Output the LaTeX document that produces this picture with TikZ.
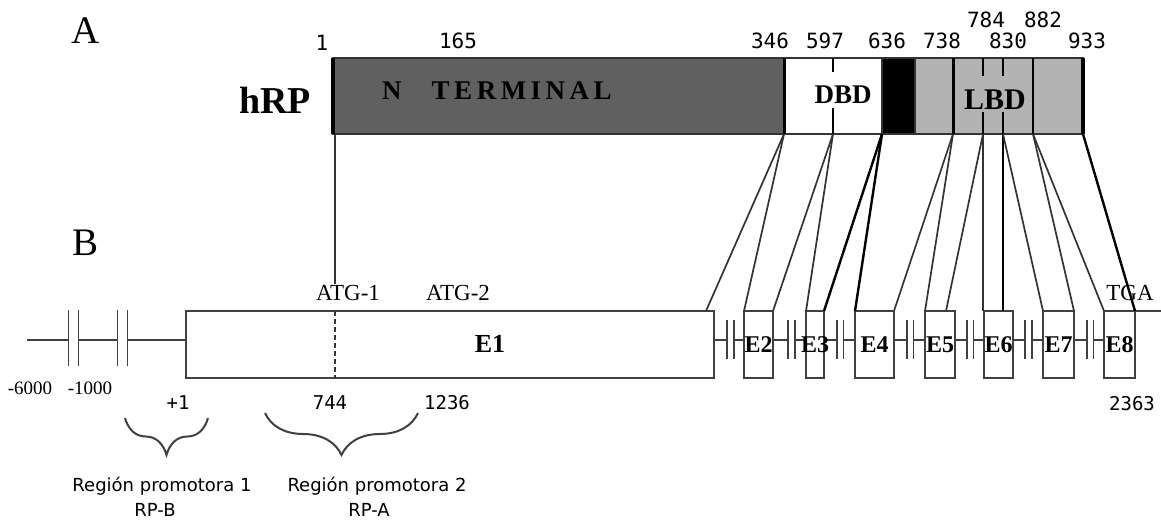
\documentclass[tikz,border=0pt]{standalone}
\usepackage{fontspec}
\setmainfont{Liberation Serif}
\newfontfamily\monofam{DejaVu Sans Mono}
\newfontfamily\sansfam{DejaVu Sans}
\usetikzlibrary{positioning,decorations.pathreplacing}
\definecolor{ntermgray}{HTML}{606060}
\definecolor{lbdgray}{HTML}{B3B3B3}
\tikzset{
  barseg/.style={draw=black!80, line width=1.2pt, minimum height=76pt, inner sep=0pt, outer sep=0pt},
  bardiv/.style={line width=3pt, black},
  bartick/.style={line width=2.5pt, black},
  exonbox/.style={draw=black!75, line width=2pt, fill=white, minimum height=67pt, inner sep=0pt, outer sep=0pt},
  exonlbl/.style={font=\bfseries\fontsize{24}{24}\selectfont, inner sep=0pt},
  domlbl/.style={font=\bfseries\fontsize{27}{27}\selectfont, inner sep=0pt},
  intron/.style={line width=1.8pt, black!75},
  brkmark/.style={line width=1.7pt, black!75, double=white, double distance=5pt},
  projline/.style={line width=1.7pt, black!80},
  projthick/.style={line width=2.4pt, black},
  aanum/.style={font=\monofam\fontsize{21}{21}\selectfont, inner sep=0pt},
  ntnum/.style={font=\monofam\fontsize{19}{19}\selectfont, inner sep=0pt},
  sitelbl/.style={font=\fontsize{23}{23}\selectfont, inner sep=1pt},
  panellbl/.style={font=\fontsize{39}{39}\selectfont, inner sep=0pt},
  promobrace/.style={decorate, decoration={brace, mirror, amplitude=#1}, line width=2pt, black!75},
  promotext/.style={font=\sansfam\fontsize{18}{18}\selectfont, inner sep=0pt}
}
\begin{document}
\begin{tikzpicture}[x=1pt, y=-1pt]
  \useasboundingbox (0,0) rectangle (1161,523);
  % A: protein
  \node[panellbl] (pa) at (86,31) {A};
  \node[font=\bfseries\fontsize{38}{38}\selectfont, inner sep=0pt] (hrp) at (275,100) {hRP};
  \node[barseg, fill=ntermgray, minimum width=451pt] (nt) at (558.5,96) {};
  \node[barseg, fill=white, minimum width=98pt] (dbd) at (833,96) {};
  \node[barseg, fill=black, minimum width=33pt] (hinge) at (898.5,96) {};
  \node[barseg, fill=lbdgray, minimum width=168pt] (lbd) at (999,96) {};
  \coordinate (p1) at (335,134);
  \coordinate (p346) at (784,134);
  \coordinate (p597) at (833,134);
  \coordinate (p636) at (882,134);
  \coordinate (p738) at (953,134);
  \coordinate (p784) at (983,134);
  \coordinate (p830) at (1003,134);
  \coordinate (p882) at (1033,134);
  \coordinate (p933) at (1083,134);
  \draw[bardiv, line width=4pt] (nt.north west) -- (nt.south west);
  \draw[bardiv] (p346 |- nt.north) -- (p346);
  \draw[bardiv] (p738 |- lbd.north) -- (p738);
  \draw[bardiv, line width=2.5pt] (p882 |- lbd.north) -- (p882);
  \draw[bardiv, line width=3.5pt] (lbd.north east) -- (lbd.south east);
  \draw[bartick] (p597 |- dbd.north) -- ++(0,14) (p597) -- ++(0,-26);
  \draw[bartick] (p784 |- lbd.north) -- ++(0,18) (p784) -- ++(0,-22);
  \draw[bartick] (p830 |- lbd.north) -- ++(0,18) (p830) -- ++(0,-22);
  \node[domlbl] (ntlbl) at (497,91) {N\hspace{30pt}T\,E\,R\,M\,I\,N\,A\,L};
  \node[domlbl] (dbdlbl) at (843,95) {DBD};
  \node[domlbl, font=\bfseries\fontsize{30}{30}\selectfont] (lbdlbl) at (995,100) {LBD};
  \node[aanum] (n1) at (322,43) {1};
  \node[aanum] (n165) at (458,41) {165};
  \node[aanum] (n346) at (770,41) {346};
  \node[aanum] (n597) at (825,41) {597};
  \node[aanum] (n636) at (887,41) {636};
  \node[aanum] (n738) at (942,41) {738};
  \node[aanum] (n784) at (986,20) {784};
  \node[aanum] (n830) at (1008,41) {830};
  \node[aanum] (n882) at (1043,20) {882};
  \node[aanum] (n933) at (1087,41) {933};
  % B: gene
  \node[panellbl] (pb) at (86,243) {B};
  \coordinate (gstart) at (27,340);
  \coordinate (gend) at (1104,340);
  \coordinate (tailend) at (1161,311);
  \draw[intron] (gstart) -- (gend);
  \draw[brkmark, double distance=8.5pt] (73.5,310) -- (73.5,366);
  \draw[brkmark, double distance=8.5pt] (122.5,310) -- (122.5,366);
  \draw[brkmark] (730.5,320) -- (730.5,359);
  \draw[brkmark] (791.5,320) -- (791.5,359);
  \draw[brkmark] (840,320) -- (840,359);
  \draw[brkmark] (910,320) -- (910,359);
  \draw[brkmark] (970,320) -- (970,359);
  \draw[brkmark] (1028.5,320) -- (1028.5,359);
  \draw[brkmark] (1090,320) -- (1090,359);
  \node[exonbox, minimum width=528pt] (e1) at (450,344.5) {};
  \node[exonbox, minimum width=29pt] (e2) at (758.5,344.5) {};
  \node[exonbox, minimum width=18pt] (e3) at (815,344.5) {};
  \node[exonbox, minimum width=39pt] (e4) at (874.5,344.5) {};
  \node[exonbox, minimum width=30pt] (e5) at (940,344.5) {};
  \node[exonbox, minimum width=29pt] (e6) at (998.5,344.5) {};
  \node[exonbox, minimum width=31pt] (e7) at (1058.5,344.5) {};
  \node[exonbox, minimum width=31pt] (e8) at (1119.5,344.5) {};
  \draw[intron] (e8.north east) -- (tailend);
  \node[exonlbl, font=\bfseries\fontsize{26}{26}\selectfont] (le1) at (490,344) {E1};
  \node[exonlbl] (le2) at (e2) {E2};
  \node[exonlbl] (le3) at (e3) {E3};
  \node[exonlbl] (le4) at (e4) {E4};
  \node[exonlbl] (le5) at (e5) {E5};
  \node[exonlbl] (le6) at (e6) {E6};
  \node[exonlbl] (le7) at (e7) {E7};
  \node[exonlbl] (le8) at (e8) {E8};
  \node[sitelbl] (atg1) at (348,293) {ATG-1};
  \node[sitelbl] (atg2) at (458,293) {ATG-2};
  \node[sitelbl] (tga) at (1130,293) {TGA};
  \draw[projline] (p1) -- (p1 |- atg1.north);
  \draw[projline, dash pattern=on 5pt off 3pt] (p1 |- e1.north) -- (p1 |- e1.south);
  \draw[projline] (p346) -- ([xshift=-8pt]e1.north east);
  \draw[projline] (p346) -- (e2.north west);
  \draw[projline] (p597) -- (e2.north east);
  \draw[projline] (p597) -- (e3.north west);
  \draw[projthick] (p636) -- (e3.north east);
  \draw[projthick] (p636) -- (e4.north west);
  \draw[projline] (p738) -- (e4.north east);
  \draw[projline] (p738) -- (e5.north west);
  \draw[projline] (p784) -- ([xshift=-9pt]e5.north east);
  \draw[projline] (p784) -- (p784 |- e6.north);
  \draw[projthick] (p830) -- (p830 |- e6.north);
  \draw[projline] (p830) -- (e7.north west);
  \draw[projline] (p882) -- (e7.north east);
  \draw[projline] (p882) -- (e8.north west);
  \draw[projthick] (p933) -- (e8.north east);
  \node[font=\fontsize{19}{19}\selectfont, inner sep=0pt] (u6000) at (30,388) {-6000};
  \node[font=\fontsize{19}{19}\selectfont, inner sep=0pt] (u1000) at (90,388) {-1000};
  \node[ntnum] (nplus1) at (178,403) {+1};
  \node[ntnum] (n744) at (330,403) {744};
  \node[ntnum] (n1236) at (447,403) {1236};
  \node[ntnum] (n2363) at (1132,404) {2363};
  % promoter regions
  \coordinate (b1l) at (125,418);
  \coordinate (b1r) at (208,418);
  \coordinate (b2l) at (265,413);
  \coordinate (b2r) at (418,413);
  \draw[promobrace=37pt] (b1l) -- (b1r);
  \draw[promobrace=42pt] (b2l) -- (b2r);
  \node[promotext] (reg1) at (162,486) {Región promotora 1};
  \node[promotext] (rpb) at (155,510) {RP-B};
  \node[promotext] (reg2) at (377,486) {Región promotora 2};
  \node[promotext] (rpa) at (369,510) {RP-A};
\end{tikzpicture}
\end{document}
